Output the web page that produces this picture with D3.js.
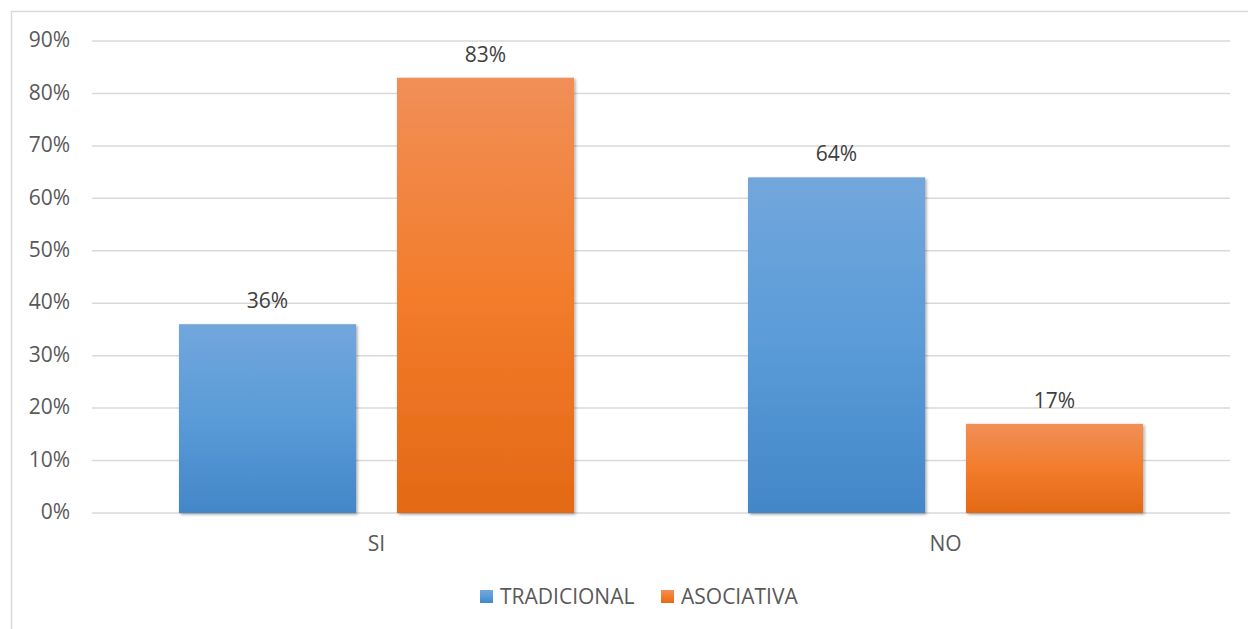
<!DOCTYPE html>
<html>
<head>
<meta charset="utf-8">
<script src="https://cdn.jsdelivr.net/npm/d3@7"></script>
<style>
  html, body { margin: 0; padding: 0; background: #ffffff; }
  svg { display: block; font-family: "Open Sans", "Liberation Sans", sans-serif; }
</style>
</head>
<body>
<svg id="chart" width="1248" height="629"></svg>
<script>
// Response categories and the two methods compared
const categories = ["SI", "NO"];
const seriesNames = ["TRADICIONAL", "ASOCIATIVA"];
const tradicional = [36, 64];
const asociativa = [83, 17];
const tickValues = [0, 10, 20, 30, 40, 50, 60, 70, 80, 90];

const seriesValues = [tradicional, asociativa];
const palette = {
  TRADICIONAL: { top: "#72a7dc", mid: "#5a9bd8", bottom: "#4287c8" },
  ASOCIATIVA:  { top: "#f18f58", mid: "#f27c2b", bottom: "#e46916" }
};

const svg = d3.select("#chart");
const W = 1248, H = 629;
const plot = { left: 92, right: 1230, top: 41, bottom: 513 };
const fontSize = 21;

// outer frame
svg.append("rect")
  .attr("x", 11.5).attr("y", 11.5)
  .attr("width", W + 20).attr("height", H + 20)
  .attr("fill", "#ffffff")
  .attr("stroke", "#d9d9d9").attr("stroke-width", 1.5);

const defs = svg.append("defs");
seriesNames.forEach((name, i) => {
  const g = defs.append("linearGradient")
    .attr("id", "grad" + i)
    .attr("x1", 0).attr("y1", 0).attr("x2", 0).attr("y2", 1);
  g.append("stop").attr("offset", "0%").attr("stop-color", palette[name].top);
  g.append("stop").attr("offset", "50%").attr("stop-color", palette[name].mid);
  g.append("stop").attr("offset", "100%").attr("stop-color", palette[name].bottom);
});
const shadow = defs.append("filter").attr("id", "shadow")
  .attr("x", "-10%").attr("y", "-10%").attr("width", "130%").attr("height", "130%");
shadow.append("feDropShadow")
  .attr("dx", 1.5).attr("dy", 1.5).attr("stdDeviation", 1.8)
  .attr("flood-color", "#000000").attr("flood-opacity", 0.35);

const y = d3.scaleLinear().domain([0, 90]).range([plot.bottom, plot.top]);
const x0 = d3.scaleBand().domain(categories).range([plot.left, plot.right]).padding(0);
const x1 = d3.scaleBand().domain(seriesNames).range([0, x0.bandwidth()])
  .paddingInner(0.188).paddingOuter(0.399);

// gridlines
svg.append("g")
  .selectAll("line")
  .data(tickValues)
  .join("line")
  .attr("x1", plot.left).attr("x2", plot.right)
  .attr("y1", d => y(d)).attr("y2", d => y(d))
  .attr("stroke", "#d9d9d9").attr("stroke-width", 1.5);

// y axis labels
const yAxis = d3.axisLeft(y).tickValues(tickValues).tickFormat(d => d + "%").tickSize(0).tickPadding(0);
const yg = svg.append("g").attr("transform", "translate(70,0)").call(yAxis);
yg.select(".domain").remove();
yg.selectAll("text")
  .attr("font-size", fontSize).attr("fill", "#595959")
  .attr("font-family", "'Open Sans', sans-serif")
  .attr("dy", "0.27em");

// bars
const groups = svg.append("g")
  .selectAll("g")
  .data(categories)
  .join("g")
  .attr("transform", d => `translate(${x0(d)},0)`);

const barData = (c, ci) => seriesNames.map((s, si) => ({ series: s, si, value: seriesValues[si][ci] }));

groups.selectAll("rect")
  .data((c, ci) => barData(c, ci))
  .join("rect")
  .attr("x", d => x1(d.series))
  .attr("y", d => y(d.value))
  .attr("width", x1.bandwidth())
  .attr("height", d => y(0) - y(d.value))
  .attr("fill", d => `url(#grad${d.si})`)
  .attr("filter", "url(#shadow)");

// value labels
groups.selectAll("text.value")
  .data((c, ci) => barData(c, ci))
  .join("text")
  .attr("class", "value")
  .attr("x", d => x1(d.series) + x1.bandwidth() / 2)
  .attr("y", d => y(d.value) - 16)
  .attr("text-anchor", "middle")
  .attr("font-size", fontSize)
  .attr("fill", "#404040")
  .text(d => d.value + "%");

// category axis
const xAxis = d3.axisBottom(x0).tickSize(0).tickPadding(0);
const xg = svg.append("g").attr("transform", `translate(0,${plot.bottom})`).call(xAxis);
xg.select(".domain").remove();
xg.selectAll("text")
  .attr("font-size", fontSize).attr("fill", "#595959")
  .attr("font-family", "'Open Sans', sans-serif")
  .attr("y", 38).attr("dy", 0);

// legend
const legendItems = [
  { name: "TRADICIONAL", si: 0, x: 480 },
  { name: "ASOCIATIVA", si: 1, x: 661 }
];
const legend = svg.append("g").selectAll("g")
  .data(legendItems)
  .join("g")
  .attr("transform", d => `translate(${d.x},590)`);
legend.append("rect")
  .attr("width", 13).attr("height", 13)
  .attr("fill", d => `url(#grad${d.si})`);
legend.append("text")
  .attr("x", 20).attr("y", 14)
  .attr("font-size", fontSize).attr("fill", "#595959")
  .text(d => d.name);
</script>
</body>
</html>
